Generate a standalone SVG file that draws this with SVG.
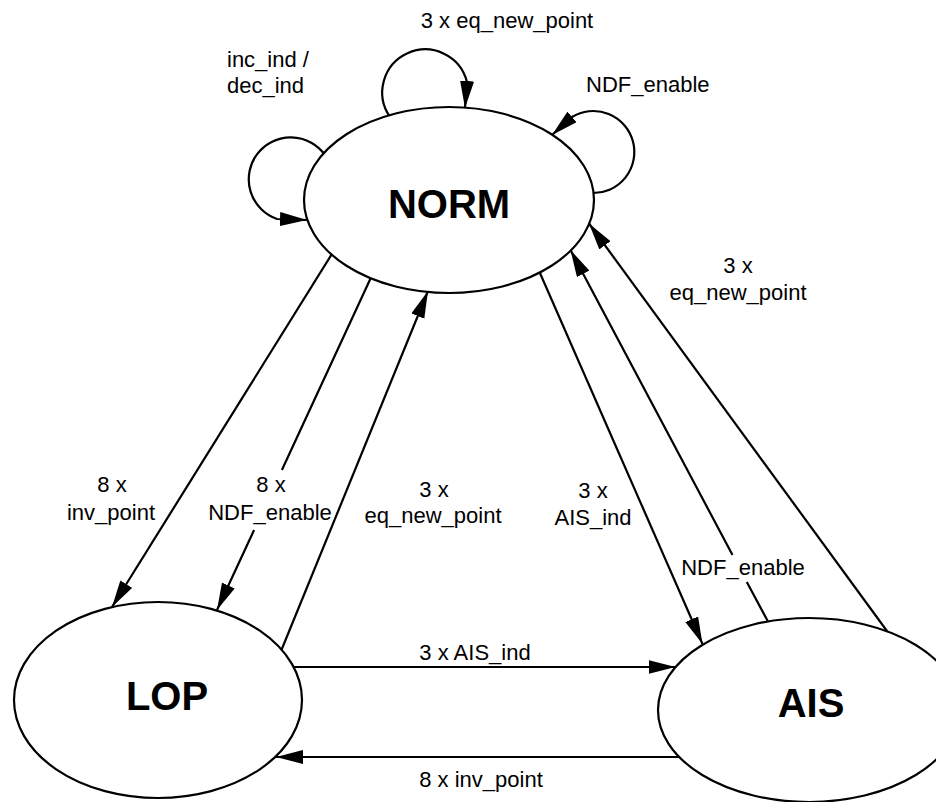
<svg xmlns="http://www.w3.org/2000/svg" width="936" height="802" viewBox="0 0 936 802">
<style>
.edge{fill:none;stroke:#000;stroke-width:2.2;marker-end:url(#ah)}
.plain{fill:none;stroke:#000;stroke-width:2.2}
.node{fill:#fff;stroke:#000;stroke-width:2.2}
.lbl{font-family:"Liberation Sans",Arial,sans-serif;font-size:22px;fill:#000;text-anchor:middle}
.st{text-anchor:start}
.big{font-family:"Liberation Sans",Arial,sans-serif;font-size:40px;font-weight:bold;fill:#000;text-anchor:middle}
</style>
<defs>
<marker id="ah" markerUnits="userSpaceOnUse" markerWidth="28" markerHeight="16" refX="27" refY="7" orient="auto">
<path d="M0,0 L27,7 L0,14 z" fill="#000"/>
</marker>
</defs>
<rect width="936" height="802" fill="#fff"/>
<g id="connectors">
<!-- self loops on NORM -->
<path class="edge" d="M325,155 A42,42 0 1 0 277,219 L307,220"/>
<path class="edge" d="M390,117 A43,43 0 1 1 467,82 L465,108"/>
<path class="edge" d="M592,193 A41,41 0 1 0 572,117 L552,135"/>
<!-- NORM -> LOP -->
<path class="edge" d="M335,249 L112,607"/>
<path class="edge" d="M374,271 L281.9,470 M254.1,530 L217,610"/>
<!-- LOP -> NORM -->
<path class="edge" d="M279,656 L428,291"/>
<!-- NORM -> AIS -->
<path class="edge" d="M536,264 L702.5,644"/>
<!-- AIS -> NORM -->
<path class="edge" d="M772,629 L746.8,582 M732.5,555 L570.5,250"/>
<path class="edge" d="M895,642 L589,223.5"/>
<!-- LOP <-> AIS -->
<path class="edge" d="M285,667 L675.5,667"/>
<path class="edge" d="M690,757 L276,757"/>
<!-- labels -->
<text class="lbl" x="507" y="28">3 x eq_new_point</text>
<text class="lbl st" x="227" y="67">inc_ind /</text>
<text class="lbl st" x="227" y="93">dec_ind</text>
<text class="lbl st" x="586" y="92">NDF_enable</text>
<text class="lbl" x="738" y="273">3 x</text>
<text class="lbl" x="738" y="300">eq_new_point</text>
<text class="lbl" x="112" y="492">8 x</text>
<text class="lbl" x="111" y="520">inv_point</text>
<text class="lbl" x="271" y="492">8 x</text>
<text class="lbl" x="270" y="520">NDF_enable</text>
<text class="lbl" x="434" y="497">3 x</text>
<text class="lbl" x="433" y="523">eq_new_point</text>
<text class="lbl" x="593" y="498">3 x</text>
<text class="lbl" x="593" y="525">AIS_ind</text>
<text class="lbl" x="743" y="575">NDF_enable</text>
<text class="lbl" x="475" y="660">3 x AIS_ind</text>
<text class="lbl" x="481" y="787">8 x inv_point</text>
</g>
<g id="NORM">
<ellipse class="node" cx="449" cy="200" rx="145" ry="93"/>
<text class="big" x="449" y="218">NORM</text>
</g>
<g id="LOP">
<ellipse class="node" cx="158" cy="700" rx="144" ry="98"/>
<text class="big" x="167" y="710">LOP</text>
</g>
<g id="AIS">
<ellipse class="node" cx="809" cy="710" rx="151" ry="92"/>
<text class="big" x="811" y="717">AIS</text>
</g>
</svg>
